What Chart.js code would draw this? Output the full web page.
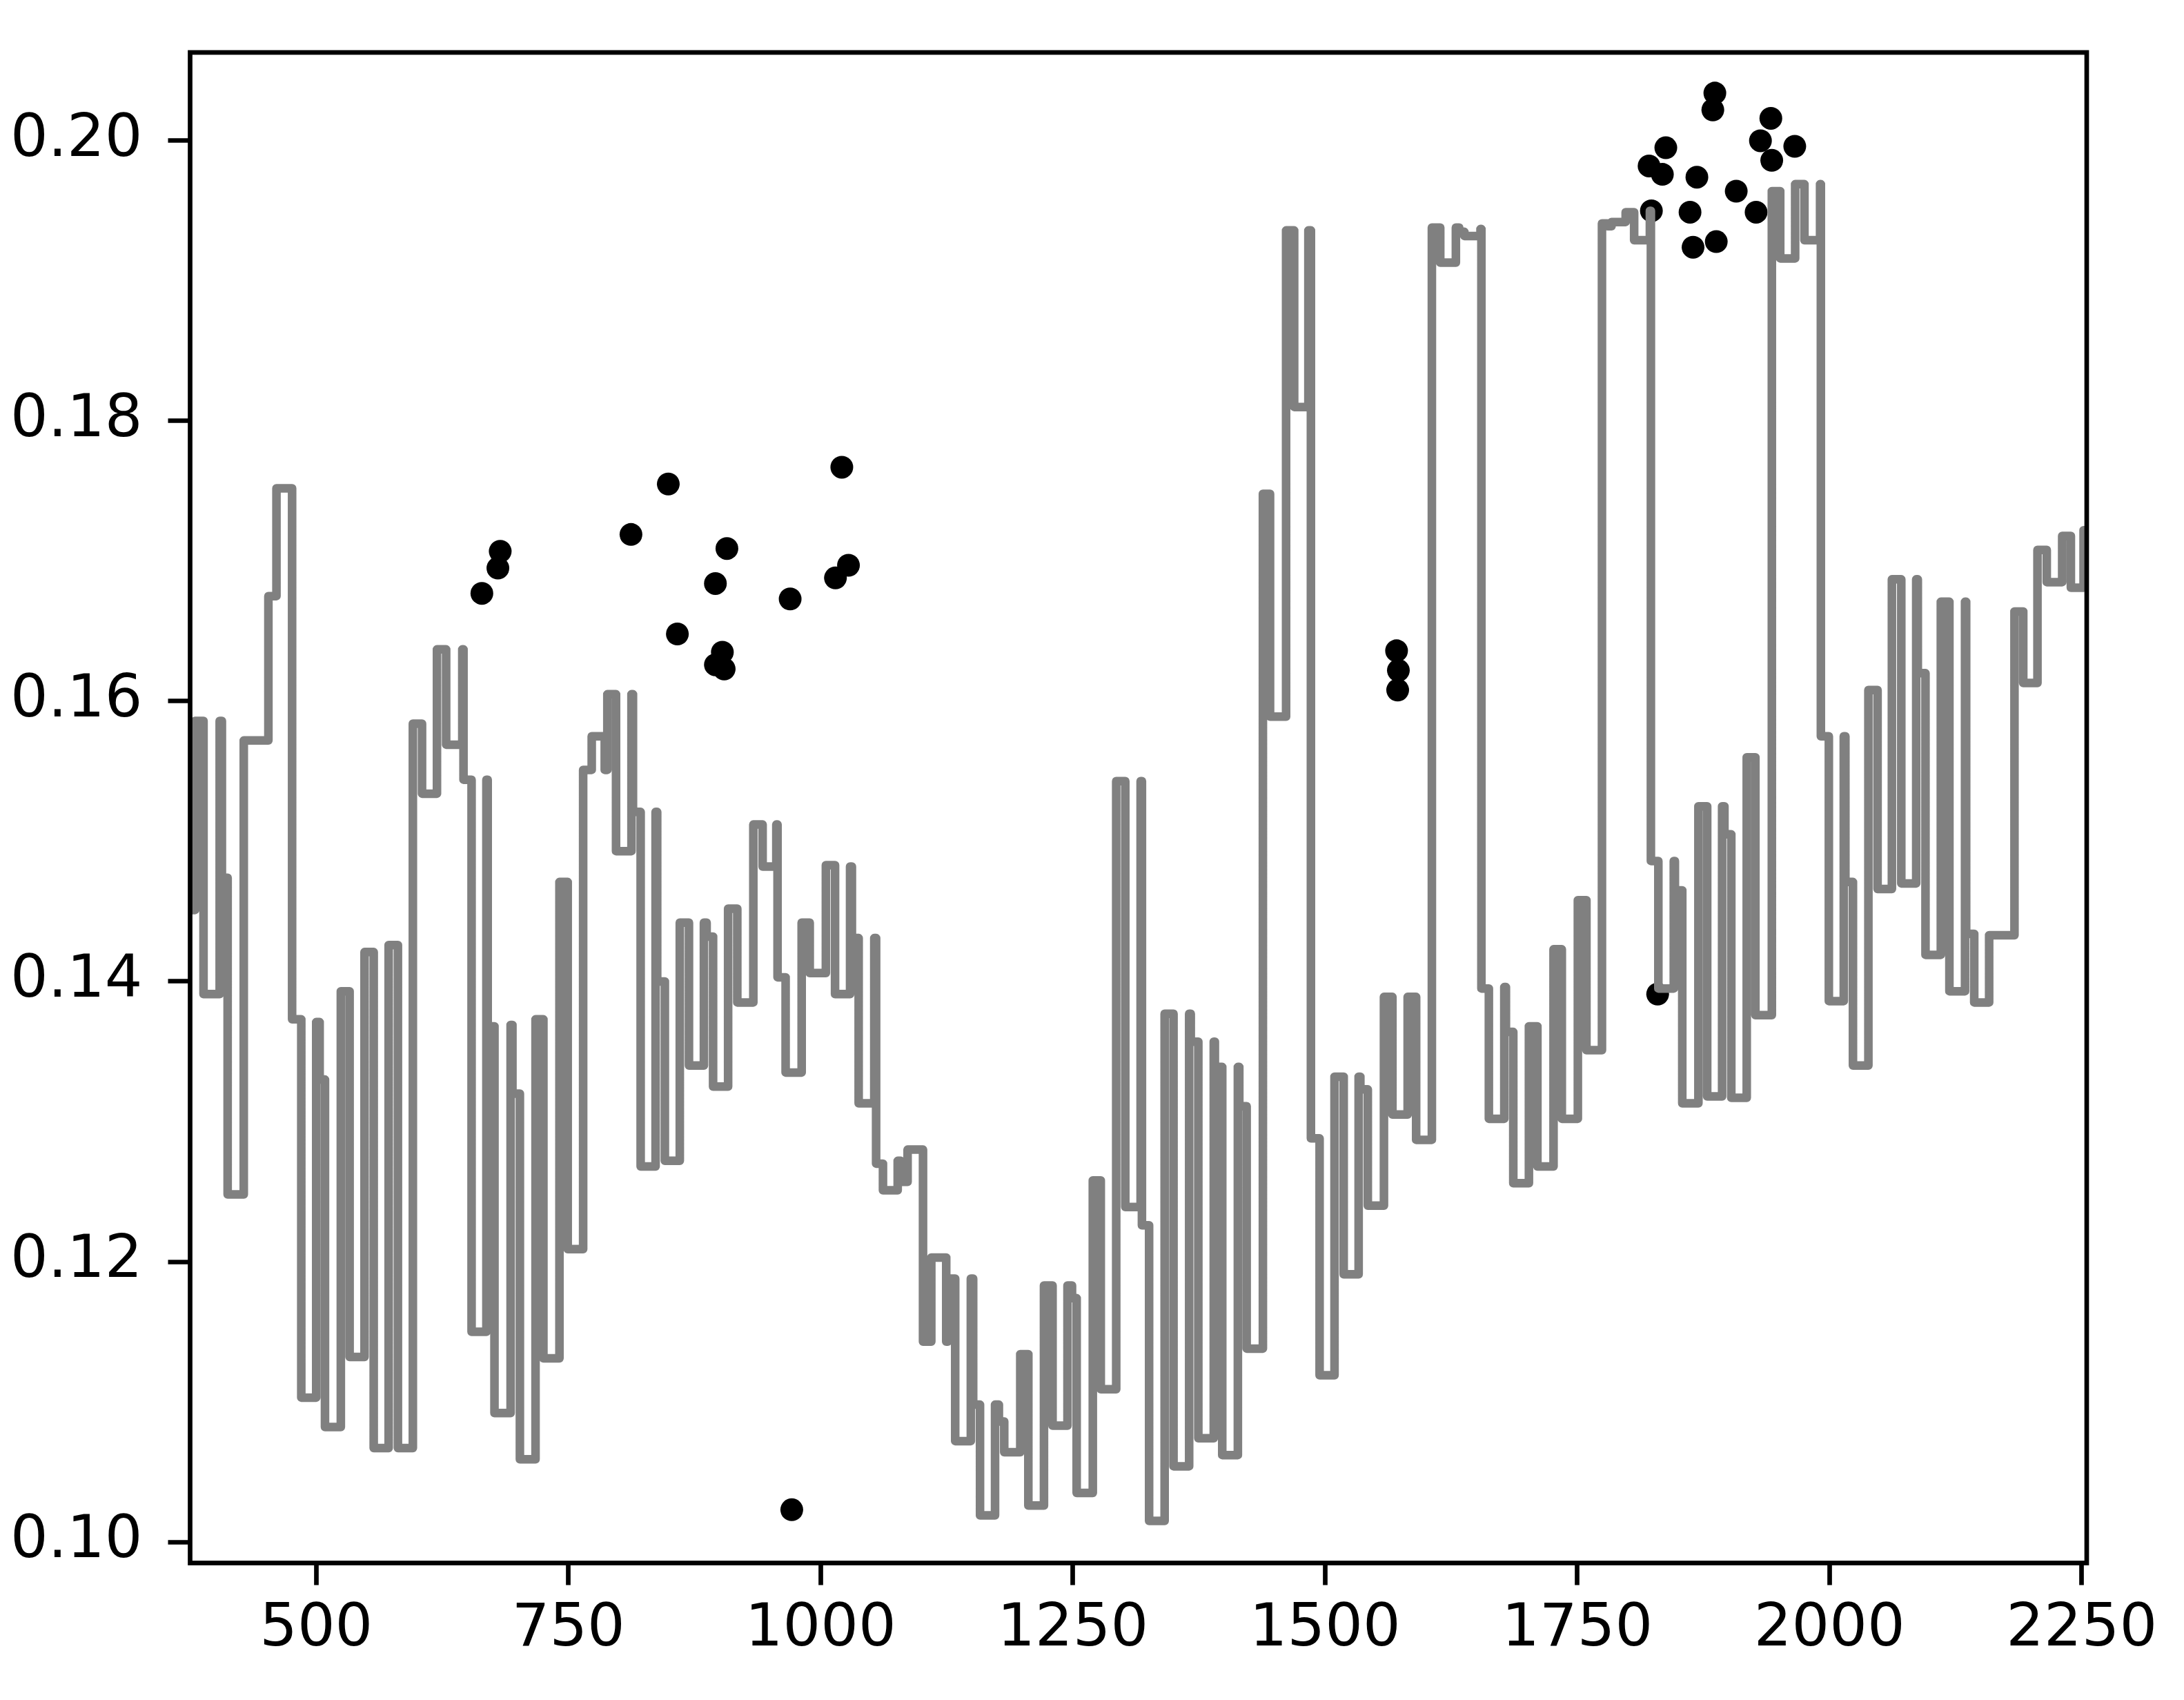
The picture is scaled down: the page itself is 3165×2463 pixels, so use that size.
<!DOCTYPE html>
<html lang="en-US">
<head>
<meta charset="utf-8">
<title>Step chart</title>
<script src="https://cdn.jsdelivr.net/npm/chart.js@4.4.0/dist/chart.umd.min.js"></script>
<style>
  body { margin: 0; background: #fff; }
</style>
</head>
<body>
<canvas id="chart" width="3165" height="2463"></canvas>
<script>
// grey step line: each value holds from its x until the next x
var stepX = [375, 379.9, 388.3, 404.3, 406.5, 412.2, 428.2, 452.6, 460.6, 476.1,
  485.2, 500.0, 503.4, 508.7, 524.4, 533.1, 547.9, 557.0, 571.8, 581.0,
  595.8, 604.9, 619.7, 628.8, 644.8, 646.0, 654.0, 668.7, 670.0, 676.7,
  692.7, 694.5, 701.9, 717.4, 725.2, 741.1, 749.3, 764.6, 773.1, 786.0,
  788.6, 797.2, 812.5, 814.0, 821.6, 836.4, 838.0, 845.6, 860.4, 869.5,
  884.3, 887.0, 893.4, 908.3, 917.4, 933.3, 942.5, 956.1, 957.3, 965.3,
  981.2, 989.2, 1005.2, 1014.3, 1029.2, 1031.0, 1037.7, 1053.2, 1055.0, 1061.8,
  1076.4, 1079.4, 1086.2, 1101.5, 1109.7, 1124.5, 1126.0, 1133.4, 1148.9, 1151.2,
  1158.0, 1172.9, 1176.7, 1182.0, 1197.9, 1205.9, 1221.4, 1229.9, 1244.7, 1249.2,
  1253.8, 1269.8, 1277.7, 1293.0, 1302.0, 1317.2, 1318.5, 1325.6, 1341.0, 1349.8,
  1365.3, 1366.9, 1374.4, 1389.7, 1390.8, 1398.1, 1413.6, 1415.0, 1422.3, 1438.4,
  1445.5, 1461.4, 1469.4, 1483.5, 1486.0, 1494.6, 1509.4, 1518.5, 1533.3, 1535.0,
  1542.4, 1558.4, 1566.8, 1581.9, 1590.3, 1605.9, 1614.2, 1629.7, 1633.0, 1638.1,
  1654.1, 1655.0, 1662.4, 1677.7, 1679.3, 1686.6, 1702.1, 1710.5, 1726.5, 1734.7,
  1750.6, 1759.1, 1774.5, 1780.0, 1784.0, 1798.0, 1806.4, 1822.0, 1823.0, 1830.4,
  1845.7, 1846.8, 1854.1, 1870.1, 1878.8, 1893.6, 1895.9, 1902.7, 1918.0, 1926.6,
  1942.9, 1951.2, 1966.0, 1975.2, 1990.7, 1991.5, 1999.4, 2014.2, 2015.8, 2023.3,
  2038.6, 2047.7, 2061.9, 2071.2, 2086.0, 2087.6, 2095.2, 2110.4, 2118.9, 2134.4,
  2135.5, 2143.5, 2158.3, 2183.4, 2192.1, 2206.2, 2215.4, 2230.7, 2239.3, 2251.9,
  2255.0];
var stepY = [0.1451, 0.1586, 0.1391, 0.1586, 0.1474, 0.1248, 0.1572, 0.1675, 0.1752, 0.1373,
  0.1103, 0.1371, 0.1330, 0.1082, 0.1393, 0.1132, 0.1421, 0.1067, 0.1426, 0.1067,
  0.1584, 0.1534, 0.1637, 0.1569, 0.1637, 0.1544, 0.1150, 0.1544, 0.1368, 0.1092,
  0.1369, 0.1320, 0.1059, 0.1373, 0.1131, 0.1471, 0.1209, 0.1551, 0.1575, 0.1551,
  0.1605, 0.1493, 0.1605, 0.1521, 0.1268, 0.1521, 0.1400, 0.1272, 0.1442, 0.1340,
  0.1442, 0.1432, 0.1325, 0.1452, 0.1385, 0.1512, 0.1482, 0.1512, 0.1403, 0.1335,
  0.1442, 0.1406, 0.1483, 0.1391, 0.1482, 0.1431, 0.1313, 0.1431, 0.1270, 0.1251,
  0.1272, 0.1257, 0.1280, 0.1143, 0.1203, 0.1143, 0.1188, 0.1072, 0.1188, 0.1098,
  0.1019, 0.1098, 0.1086, 0.1064, 0.1134, 0.1026, 0.1183, 0.1083, 0.1183, 0.1174,
  0.1035, 0.1258, 0.1109, 0.1543, 0.1239, 0.1543, 0.1226, 0.1015, 0.1377, 0.1054,
  0.1377, 0.1357, 0.1074, 0.1357, 0.1339, 0.1062, 0.1339, 0.1311, 0.1138, 0.1748,
  0.1589, 0.1936, 0.1810, 0.1936, 0.1288, 0.1119, 0.1332, 0.1191, 0.1332, 0.1323,
  0.1240, 0.1389, 0.1305, 0.1389, 0.1287, 0.1938, 0.1913, 0.1938, 0.1935, 0.1932,
  0.1937, 0.1395, 0.1302, 0.1396, 0.1364, 0.1256, 0.1368, 0.1268, 0.1423, 0.1302,
  0.1458, 0.1351, 0.1941, 0.1939, 0.1942, 0.1949, 0.1929, 0.1950, 0.1486, 0.1395,
  0.1486, 0.1465, 0.1313, 0.1525, 0.1318, 0.1525, 0.1505, 0.1317, 0.1560, 0.1376,
  0.1964, 0.1916, 0.1969, 0.1929, 0.1969, 0.1575, 0.1386, 0.1575, 0.1471, 0.1340,
  0.1608, 0.1466, 0.1687, 0.1470, 0.1687, 0.1620, 0.1419, 0.1671, 0.1393, 0.1671,
  0.1434, 0.1385, 0.1433, 0.1664, 0.1613, 0.1708, 0.1685, 0.1718, 0.1681, 0.1722,
  0.1722];

// black dots
var dotX = [664.2, 680.1, 682.4, 812.0, 849.0, 858.0, 895.7, 895.7, 902.6, 904.4,
  907.1, 969.8, 971.4, 1014.7, 1021.0, 1027.6, 1570.9, 1572.7, 1572.0, 1829.7,
  1821.2, 1823.5, 1834.4, 1837.8, 1861.8, 1864.8, 1868.6, 1884.4, 1886.4, 1887.8,
  1907.6, 1927.3, 1931.6, 1941.9, 1942.8, 1965.6];
var dotY = [0.1677, 0.1695, 0.1707, 0.1719, 0.1755, 0.1648, 0.1684, 0.1626, 0.1635, 0.1623,
  0.1709, 0.1673, 0.1023, 0.1688, 0.1767, 0.1697, 0.1636, 0.1622, 0.1608, 0.1391,
  0.1982, 0.1950, 0.1976, 0.1995, 0.1949, 0.1924, 0.1974, 0.2022, 0.2034, 0.1928,
  0.1964, 0.1949, 0.2000, 0.2016, 0.1986, 0.1996];

var xTicks = [500, 750, 1000, 1250, 1500, 1750, 2000, 2250];
var yTicks = [0.10, 0.12, 0.14, 0.16, 0.18, 0.20];

function pairs(xs, ys) {
  return xs.map(function (x, i) { return { x: x, y: ys[i] }; });
}

// axes box drawn on top, like matplotlib spines
var frame = {
  id: 'frame',
  afterDraw: function (chart) {
    var a = chart.chartArea;
    var ctx = chart.ctx;
    ctx.save();
    ctx.strokeStyle = '#000';
    ctx.lineWidth = 6.7;
    ctx.strokeRect(a.left, a.top, a.right - a.left, a.bottom - a.top);
    ctx.restore();
  }
};

var tickFont = { family: 'DejaVu Sans', size: 86 };
var tickGrid = {
  drawOnChartArea: false,
  drawTicks: true,
  tickLength: 32,
  tickWidth: 6.7,
  tickColor: '#000'
};

var config = {
  type: 'line',
  data: {
    datasets: [{
      data: pairs(stepX, stepY),
      stepped: 'before',
      borderColor: '#808080',
      borderWidth: 12.5,
      borderJoinStyle: 'round',
      borderCapStyle: 'square',
      pointRadius: 0,
      fill: false
    }, {
      type: 'scatter',
      data: pairs(dotX, dotY),
      showLine: false,
      pointRadius: 16.5,
      pointBorderWidth: 0,
      pointBackgroundColor: '#000',
      pointBorderColor: '#000'
    }]
  },
  options: {
    responsive: false,
    animation: false,
    devicePixelRatio: 1,
    layout: { padding: { top: 76, right: 141, left: 0, bottom: 0 } },
    plugins: { legend: { display: false }, tooltip: { enabled: false } },
    scales: {
      x: {
        type: 'linear',
        min: 375,
        max: 2255,
        border: { display: false },
        grid: tickGrid,
        afterBuildTicks: function (scale) {
          scale.ticks = xTicks.map(function (v) { return { value: v }; });
        },
        afterFit: function (scale) {
          scale.height = 198.5;
          scale.paddingLeft = 0;
          scale.paddingRight = 0;
        },
        ticks: {
          autoSkip: false,
          maxRotation: 0,
          padding: 14,
          color: '#000',
          font: tickFont,
          callback: function (v) { return String(v); }
        }
      },
      y: {
        type: 'linear',
        min: 0.0985,
        max: 0.2063,
        border: { display: false },
        grid: tickGrid,
        afterBuildTicks: function (scale) {
          scale.ticks = yTicks.map(function (v) { return { value: v }; });
        },
        afterFit: function (scale) {
          scale.width = 275.5;
          scale.paddingTop = 0;
          scale.paddingBottom = 0;
        },
        ticks: {
          autoSkip: false,
          padding: 37,
          color: '#000',
          font: tickFont,
          callback: function (v) { return v.toFixed(2); }
        }
      }
    }
  },
  plugins: [frame]
};

var ctx = document.getElementById('chart').getContext('2d');
window.myChart = new Chart(ctx, config);
</script>
</body>
</html>
